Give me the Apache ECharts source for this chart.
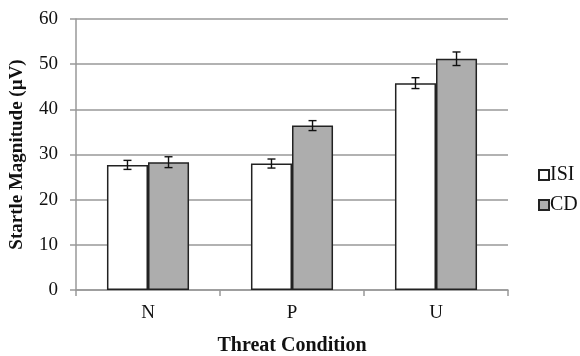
<!DOCTYPE html>
<html><head><meta charset="utf-8">
<script src="https://cdn.jsdelivr.net/npm/echarts@6/dist/echarts.min.js"></script>
<style>html,body{margin:0;padding:0;background:#fff}#c{width:580px;height:356px}</style>
</head><body><div id="c"></div>
<script>
const categories = ['N', 'P', 'U'];
const isiValues = [27.7, 28.0, 45.8];
const isiErrors = [1.0, 1.0, 1.2];
const cdValues = [28.3, 36.4, 51.2];
const cdErrors = [1.2, 1.1, 1.5];
const yTicks = [0, 10, 20, 30, 40, 50, 60];

const BAR_FRAC = 0.285;
const font = '"Liberation Serif", "Times New Roman", serif';

function errSeries(name, vals, errs, sign) {
  return {
    type: 'custom', name: name + '_err', z: 5, silent: true,
    data: vals.map((v, i) => [i, v, errs[i]]),
    renderItem: function (params, api) {
      const i = api.value(0), v = api.value(1), e = api.value(2);
      const band = api.size([1, 0])[0];
      const c = api.coord([i, v]);
      const x = c[0] + sign * band * BAR_FRAC / 2;
      const yt = api.coord([i, v + e])[1];
      const yb = api.coord([i, v - e])[1];
      const w = 4;
      const st = { stroke: '#111', lineWidth: 1.4 };
      return { type: 'group', children: [
        { type: 'line', shape: { x1: x, y1: yt, x2: x, y2: yb }, style: st },
        { type: 'line', shape: { x1: x - w, y1: yt, x2: x + w, y2: yt }, style: st },
        { type: 'line', shape: { x1: x - w, y1: yb, x2: x + w, y2: yb }, style: st }
      ]};
    }
  };
}

const chart = echarts.init(document.getElementById('c'));
chart.setOption({
  animation: false,
  grid: { left: 76, right: 72, top: 19, bottom: 66, outerBoundsMode: 'none', containLabel: false },
  legend: {
    orient: 'vertical', left: 533, top: 160, itemGap: 10,
    itemWidth: 10, itemHeight: 10, icon: 'rect',
    data: ['ISI', 'CD'],
    textStyle: { fontFamily: font, fontSize: 20, color: '#111', padding: [0, 0, 0, -4] }
  },
  xAxis: {
    type: 'category', data: categories,
    name: 'Threat Condition', nameLocation: 'middle', nameGap: 46,
    nameTextStyle: { fontFamily: font, fontSize: 20, fontWeight: 'bold', color: '#111' },
    axisLine: { lineStyle: { color: '#999', width: 1.5 } },
    axisTick: { show: true, length: 6, lineStyle: { color: '#999', width: 1.5 } },
    axisLabel: { fontFamily: font, fontSize: 19, color: '#111', margin: 14 }
  },
  yAxis: {
    type: 'value', min: 0, max: 60, interval: 10,
    name: 'Startle Magnitude (µV)', nameLocation: 'middle', nameGap: 49, nameRotate: 90,
    nameTextStyle: { fontFamily: font, fontSize: 19, fontWeight: 'bold', color: '#111' },
    axisLine: { show: true, lineStyle: { color: '#999', width: 1.5 } },
    axisTick: { show: true, length: 6, lineStyle: { color: '#999', width: 1.5 } },
    splitLine: { lineStyle: { color: '#999', width: 1.5 } },
    axisLabel: { fontFamily: font, fontSize: 19, color: '#111', margin: 18,
      formatter: v => yTicks.includes(v) ? String(v) : '' }
  },
  series: [
    { type: 'bar', name: 'ISI', data: isiValues, barWidth: (BAR_FRAC * 100) + '%', barGap: '0%',
      itemStyle: { color: '#ffffff', borderColor: '#222', borderWidth: 1.5 } },
    { type: 'bar', name: 'CD', data: cdValues, barWidth: (BAR_FRAC * 100) + '%', barGap: '0%',
      itemStyle: { color: '#adadad', borderColor: '#222', borderWidth: 1.5 } },
    errSeries('ISI', isiValues, isiErrors, -1),
    errSeries('CD', cdValues, cdErrors, 1)
  ]
});
</script></body></html>
